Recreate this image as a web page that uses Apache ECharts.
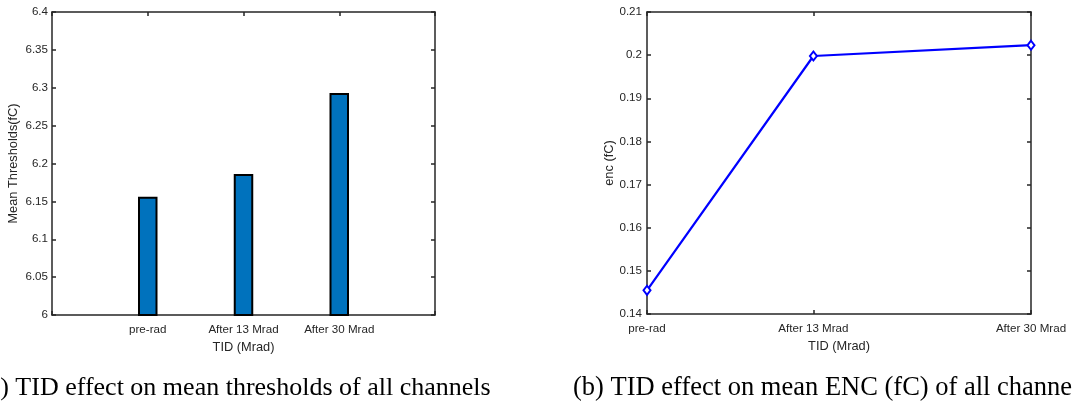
<!DOCTYPE html>
<html>
<head>
<meta charset="utf-8">
<script src="https://cdn.jsdelivr.net/npm/echarts@6/dist/echarts.min.js"></script>
<style>
html,body{margin:0;padding:0;background:#fff;}
#c{width:1072px;height:403px;}
</style>
</head>
<body>
<div id="c"></div>
<script>
// ---- data ----
var categories = ['pre-rad', 'After 13 Mrad', 'After 30 Mrad'];
var barSlots = [1, 2, 3];                 // bar positions on left x axis (0..4)
var meanThresholds = [6.156, 6.186, 6.293];
var doses = [0, 13, 30];                  // Mrad, x positions on right chart
var encValues = [0.1455, 0.1998, 0.2023];
var leftYTicks = [6, 6.05, 6.1, 6.15, 6.2, 6.25, 6.3, 6.35, 6.4];
var rightYTicks = [0.14, 0.15, 0.16, 0.17, 0.18, 0.19, 0.2, 0.21];
var captionA = '(a) TID effect on mean thresholds of all channels';
var captionB = '(b) TID effect on mean ENC (fC) of all channels';

var TXT = '#262626';
var FONT = 'Liberation Sans, Arial, sans-serif';
var lineStyle = {color: '#262626', width: 1.5};
var tickStyle = {show: true, inside: true, length: 4, lineStyle: {color: '#262626', width: 1.5}};

function mirrorAxis(base) {
  return Object.assign({
    axisLine: {show: true, onZero: false, lineStyle: lineStyle},
    axisTick: tickStyle,
    axisLabel: {show: false},
    splitLine: {show: false}
  }, base);
}

var chart = echarts.init(document.getElementById('c'), null, {renderer: 'canvas'});
var option = {
  animation: false,
  backgroundColor: '#fff',
  grid: [
    {left: 52, top: 12, width: 383, height: 303},
    {left: 647, top: 12, width: 384, height: 302}
  ],
  xAxis: [
    {
      type: 'value', gridIndex: 0, min: 0, max: 4, interval: 1, position: 'bottom',
      axisLine: {show: true, onZero: false, lineStyle: lineStyle},
      axisTick: tickStyle,
      splitLine: {show: false},
      axisLabel: {
        color: TXT, fontFamily: FONT, fontSize: 11.6, margin: 9,
        formatter: function (v) { var i = barSlots.indexOf(v); return i >= 0 ? categories[i] : ''; }
      },
      name: 'TID (Mrad)', nameLocation: 'middle', nameGap: 26,
      nameTextStyle: {color: TXT, fontFamily: FONT, fontSize: 12.8}
    },
    mirrorAxis({type: 'value', gridIndex: 0, min: 0, max: 4, interval: 1, position: 'top'}),
    {
      type: 'value', gridIndex: 1, min: 0, max: 30, position: 'bottom',
      axisLine: {show: true, onZero: false, lineStyle: lineStyle},
      axisTick: Object.assign({}, tickStyle, {customValues: doses}),
      splitLine: {show: false},
      axisLabel: {
        color: TXT, fontFamily: FONT, fontSize: 11.6, margin: 9,
        customValues: doses,
        formatter: function (v) { var i = doses.indexOf(v); return i >= 0 ? categories[i] : ''; }
      },
      name: 'TID (Mrad)', nameLocation: 'middle', nameGap: 26,
      nameTextStyle: {color: TXT, fontFamily: FONT, fontSize: 12.8}
    },
    mirrorAxis({type: 'value', gridIndex: 1, min: 0, max: 30, position: 'top',
      axisTick: Object.assign({}, tickStyle, {customValues: doses})})
  ],
  yAxis: [
    {
      type: 'value', gridIndex: 0, min: 6, max: 6.4, interval: 0.05, position: 'left',
      axisLine: {show: true, onZero: false, lineStyle: lineStyle},
      axisTick: tickStyle,
      splitLine: {show: false},
      axisLabel: {color: TXT, fontFamily: FONT, fontSize: 11.6, margin: 4,
        formatter: function (v) { return String(parseFloat(v.toFixed(2))); }},
      name: 'Mean Thresholds(fC)', nameLocation: 'middle', nameGap: 32,
      nameTextStyle: {color: TXT, fontFamily: FONT, fontSize: 12.8}
    },
    mirrorAxis({type: 'value', gridIndex: 0, min: 6, max: 6.4, interval: 0.05, position: 'right'}),
    {
      type: 'value', gridIndex: 1, min: 0.14, max: 0.21, interval: 0.01, position: 'left',
      axisLine: {show: true, onZero: false, lineStyle: lineStyle},
      axisTick: tickStyle,
      splitLine: {show: false},
      axisLabel: {color: TXT, fontFamily: FONT, fontSize: 11.6, margin: 5,
        formatter: function (v) { return String(parseFloat(v.toFixed(2))); }},
      name: 'enc (fC)', nameLocation: 'middle', nameGap: 30,
      nameTextStyle: {color: TXT, fontFamily: FONT, fontSize: 12.8}
    },
    mirrorAxis({type: 'value', gridIndex: 1, min: 0.14, max: 0.21, interval: 0.01, position: 'right'})
  ],
  series: [
    {
      type: 'bar', xAxisIndex: 0, yAxisIndex: 0, barWidth: 19.5,
      data: barSlots.map(function (x, i) { return [x, meanThresholds[i]]; }),
      itemStyle: {color: '#0072BD', borderColor: '#000', borderWidth: 2},
      z: 1
    },
    {
      type: 'line', xAxisIndex: 2, yAxisIndex: 2,
      data: doses.map(function (x, i) { return [x, encValues[i]]; }),
      lineStyle: {color: '#0000FF', width: 2.2},
      symbol: 'diamond', symbolSize: [7, 9], showSymbol: true,
      itemStyle: {color: '#fff', borderColor: '#0000FF', borderWidth: 2},
      clip: false
    }
  ],
  graphic: [
    {type: 'text', x: -20, y: 388, silent: true,
      style: {text: captionA, font: '26px "Liberation Serif", "Times New Roman", serif', fill: '#000', verticalAlign: 'middle', textAlign: 'left'}},
    {type: 'text', x: 573, y: 388, silent: true,
      style: {text: captionB, font: '26.5px "Liberation Serif", "Times New Roman", serif', fill: '#000', verticalAlign: 'middle', textAlign: 'left'}}
  ]
};
chart.setOption(option);
</script>
</body>
</html>
